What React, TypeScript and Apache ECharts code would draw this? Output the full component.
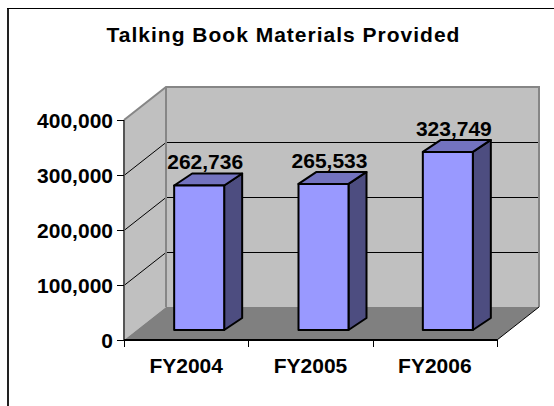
import React, { useEffect, useRef } from "react";
import * as echarts from "echarts";

const titleText = "Talking Book Materials Provided";
const categories = ["FY2004", "FY2005", "FY2006"];
const values = [262736, 265533, 323749];
const valueLabels = ["262,736", "265,533", "323,749"];
const yTicks = [0, 100000, 200000, 300000, 400000];
const yMax = 400000;
const FONT = '"Liberation Sans", Arial, sans-serif';

const depthX = 42;
const depthY = 33;
const barW = 50;
const barDX = 18;
const barDY = 12;
const barShiftX = 13;
const barShiftY = 10;

export default function App() {
  const ref = useRef<HTMLDivElement>(null);
  useEffect(() => {
    const chart = echarts.init(ref.current!, undefined, { renderer: "svg" });
    chart.setOption({
      animation: false,
      backgroundColor: "#fff",
      title: {
        text: titleText,
        left: 278.5,
        top: 19,
        textAlign: "center",
        textStyle: { fontFamily: FONT, fontWeight: "bold", fontSize: 21, color: "#000" },
      },
      grid: { left: 124, right: 57, top: 120, bottom: 66 },
      xAxis: {
        type: "category",
        data: categories,
        axisLine: { show: false },
        axisTick: { show: false },
        axisLabel: { fontFamily: FONT, fontWeight: "bold", fontSize: 21, color: "#000", margin: 15 },
        z: 5,
      },
      yAxis: {
        type: "value",
        min: 0,
        max: yMax,
        interval: 100000,
        splitLine: { show: false },
        axisLine: { show: false },
        axisTick: { show: false },
        axisLabel: {
          fontFamily: FONT,
          fontWeight: "bold",
          fontSize: 21,
          color: "#000",
          margin: 11,
          formatter: (v: number) => v.toLocaleString("en-US"),
        },
        z: 5,
      },
      series: [
        {
          type: "custom",
          coordinateSystem: "cartesian2d",
          silent: true,
          z: 1,
          data: [[0, 0]],
          clip: false,
          renderItem: (_: any, api: any) => {
            const band = api.size([1, 0])[0];
            const x0 = api.coord([0, 0])[0] - band / 2;
            const x1 = x0 + band * categories.length;
            const y0 = api.coord([0, 0])[1];
            const y1 = api.coord([0, yMax])[1];
            const w = "#c0c0c0";
            const edge = "#868686";
            const children: any[] = [
              { type: "polygon", shape: { points: [[x0, y0], [x0 + depthX, y0 - depthY], [x0 + depthX, y1 - depthY], [x0, y1]] }, style: { fill: w } },
              { type: "rect", shape: { x: x0 + depthX, y: y1 - depthY, width: x1 - x0, height: y0 - y1 }, style: { fill: w } },
              { type: "polygon", shape: { points: [[x0, y0], [x1, y0], [x1 + depthX, y0 - depthY], [x0 + depthX, y0 - depthY]] }, style: { fill: "#808080" } },
            ];
            for (const t of yTicks) {
              if (t === 0 || t === yMax) continue;
              const y = api.coord([0, t])[1] + 0.5;
              children.push({ type: "polyline", shape: { points: [[x0, y], [x0 + depthX, y - depthY], [x1 + depthX, y - depthY]] }, style: { fill: "none", stroke: "#000", lineWidth: 1 } });
            }
            children.push({ type: "polyline", shape: { points: [[x0, y1], [x0 + depthX, y1 - depthY], [x1 + depthX, y1 - depthY], [x1 + depthX, y0 - depthY]] }, style: { fill: "none", stroke: edge, lineWidth: 2 } });
            children.push({ type: "line", shape: { x1: x0 + depthX, y1: y1 - depthY, x2: x0 + depthX, y2: y0 - depthY }, style: { stroke: edge, lineWidth: 2 } });
            children.push({ type: "line", shape: { x1: x1, y1: y0, x2: x1 + depthX, y2: y0 - depthY }, style: { stroke: "#000", lineWidth: 1 } });
            children.push({ type: "line", shape: { x1: x0, y1: y1, x2: x0, y2: y0 }, style: { stroke: "#555", lineWidth: 2 } });
            children.push({ type: "line", shape: { x1: x0, y1: y0, x2: x1, y2: y0 }, style: { stroke: "#000", lineWidth: 2 } });
            for (const t of yTicks) {
              const y = api.coord([0, t])[1] + 0.5;
              children.push({ type: "line", shape: { x1: x0 - 7, y1: y, x2: x0, y2: y }, style: { stroke: "#000", lineWidth: 1 } });
            }
            for (let i = 0; i <= categories.length; i++) {
              const x = Math.round(x0 + band * i) + 0.5;
              children.push({ type: "line", shape: { x1: x, y1: y0, x2: x, y2: y0 + 7 }, style: { stroke: "#000", lineWidth: 1 } });
            }
            return { type: "group", children };
          },
        },
        {
          type: "custom",
          coordinateSystem: "cartesian2d",
          silent: true,
          z: 2,
          data: values.map((v, i) => [i, v]),
          clip: false,
          renderItem: (params: any, api: any) => {
            const i = api.value(0);
            const [cx, top0] = api.coord([i, api.value(1)]);
            const x = cx + barShiftX - barW / 2;
            const top = top0 - barShiftY;
            const bottom = api.coord([i, 0])[1] - barShiftY;
            const stroke = { stroke: "#000", lineWidth: 2, lineJoin: "round" };
            return {
              type: "group",
              children: [
                { type: "polygon", shape: { points: [[x + barW, top], [x + barW + barDX, top - barDY], [x + barW + barDX, bottom - barDY], [x + barW, bottom]] }, style: { fill: "#4d4d80", ...stroke } },
                { type: "polygon", shape: { points: [[x, top], [x + barDX, top - barDY], [x + barW + barDX, top - barDY], [x + barW, top]] }, style: { fill: "#7373bf", ...stroke } },
                { type: "rect", shape: { x, y: top, width: barW, height: bottom - top }, style: { fill: "#9999ff", ...stroke } },
                { type: "text", x: x + 31, y: top - barDY - 1, style: { text: valueLabels[params.dataIndex], fill: "#000", font: `bold 21px ${FONT}`, align: "center", verticalAlign: "bottom" } },
              ],
            };
          },
        },
      ],
      graphic: [
        { type: "line", shape: { x1: 8, y1: 8, x2: 8, y2: 406 }, style: { stroke: "#222", lineWidth: 2 } },
        { type: "line", shape: { x1: 7, y1: 8.5, x2: 554, y2: 8.5 }, style: { stroke: "#000", lineWidth: 1 } },
      ],
    });
    // The reference's title is spaced out a little; ECharts has no option for that.
    ref.current!.querySelectorAll("text").forEach((el) => {
      if (el.textContent === titleText) (el as any).style.letterSpacing = "1px";
    });
    return () => chart.dispose();
  }, []);
  return <div ref={ref} style={{ position: "fixed", left: 0, top: 0, width: 554, height: 406 }} />;
}
